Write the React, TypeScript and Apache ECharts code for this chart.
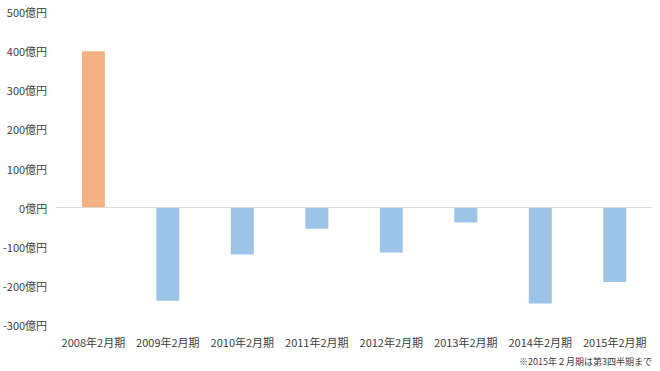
import React, { useEffect, useRef } from "react";
import * as echarts from "echarts";

const categories = [
  "2008年2月期",
  "2009年2月期",
  "2010年2月期",
  "2011年2月期",
  "2012年2月期",
  "2013年2月期",
  "2014年2月期",
  "2015年2月期",
];
const values = [400, -238, -120, -54, -115, -38, -245, -190];
const note = "※2015年２月期は第3四半期まで";

export default function App() {
  const ref = useRef<HTMLDivElement>(null);
  useEffect(() => {
    const chart = echarts.init(ref.current!, null, { renderer: "svg" });
    chart.setOption({
      animation: false,
      grid: { left: 56, right: 8, top: 12, bottom: 46 },
      xAxis: {
        type: "category",
        data: categories,
        position: "bottom",
        axisLine: { show: false },
        axisTick: { show: false },
        axisLabel: {
          color: "#404040",
          fontSize: 11,
          fontFamily: "Noto Sans CJK JP",
          margin: 11,
          interval: 0,
        },
      },
      yAxis: {
        type: "value",
        min: -300,
        max: 500,
        interval: 100,
        splitLine: { show: false },
        axisLine: { show: false },
        axisTick: { show: false },
        axisLabel: {
          color: "#404040",
          fontSize: 11,
          fontFamily: "Noto Sans CJK JP",
          margin: 9,
          formatter: (v: number) => `${v}億円`,
        },
      },
      series: [
        {
          type: "bar",
          barWidth: 23,
          data: values.map((v, i) => ({
            value: v,
            itemStyle: { color: i === 0 ? "#F4B183" : "#9DC3E6" },
          })),
          markLine: {
            silent: true,
            symbol: "none",
            label: { show: false },
            lineStyle: { color: "#D9D9D9", type: "solid", width: 1 },
            data: [{ yAxis: 0 }],
          },
        },
      ],
      graphic: [
        {
          type: "text",
          right: 8,
          top: 357,
          style: {
            text: note,
            fill: "#404040",
            fontSize: 9,
            fontFamily: "Noto Sans CJK JP",
          },
        },
      ],
    });
    return () => chart.dispose();
  }, []);
  return <div ref={ref} style={{ width: 660, height: 371, position: "fixed", left: 0, top: 0, background: "#fff" }} />;
}
